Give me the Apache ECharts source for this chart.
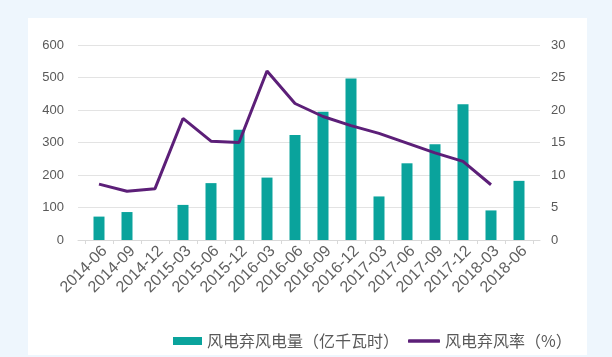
<!DOCTYPE html>
<html>
<head>
<meta charset="utf-8">
<script src="https://cdn.jsdelivr.net/npm/echarts@6/dist/echarts.min.js"></script>
<style>
html,body{margin:0;padding:0;background:#eef6fd;}
#chart{width:612px;height:357px;}
</style>
</head>
<body>
<div id="chart"></div>
<script>
const categories = ['2014-06','2014-09','2014-12','2015-03','2015-06','2015-12','2016-03','2016-06','2016-09','2016-12','2017-03','2017-06','2017-09','2017-12','2018-03','2018-06'];
const curtailedEnergy = [72, 86, null, 108, 175, 339, 192, 323, 395, 497, 134, 236, 295, 418, 91, 182];
const curtailmentRate = [8.6, 7.5, 7.9, 18.7, 15.2, 15.0, 26.0, 21.0, 19.0, 17.6, 16.4, 14.9, 13.4, 12.1, 8.5, null];
const seriesNames = ['风电弃风电量（亿千瓦时）', '风电弃风率（%）'];
const leftAxis = {min: 0, max: 600, interval: 100};
const rightAxis = {min: 0, max: 30, interval: 5};

const chart = echarts.init(document.getElementById('chart'), null, {renderer: 'canvas'});
const labelColor = '#595959';
const numFont = 'Liberation Sans';
const legendText = {fontSize: 16, color: labelColor, fontFamily: 'Noto Sans CJK SC'};
const option = {
  backgroundColor: '#eef6fd',
  animation: false,
  graphic: [{
    type: 'rect', z: -10, silent: true,
    shape: {x: 28, y: 18, width: 559, height: 337},
    style: {fill: '#ffffff'}
  }],
  grid: [
    {left: 78, right: 72, top: 45, bottom: 117},
    {left: 85, right: 79, top: 45, bottom: 117}
  ],
  legend: [
    {left: 168, top: 328, itemWidth: 29, itemHeight: 8,
     textStyle: legendText, selectedMode: false,
     data: [{name: seriesNames[0], icon: 'rect'}]},
    {left: 403, top: 328, itemWidth: 32, itemHeight: 3.5,
     textStyle: legendText, selectedMode: false,
     data: [{name: seriesNames[1], icon: 'roundRect'}]}
  ],
  xAxis: [
    {type: 'value', gridIndex: 0, min: 0, max: 1,
     axisLine: {show: true, lineStyle: {color: '#d9d9d9', width: 1}},
     axisTick: {show: false}, axisLabel: {show: false}, splitLine: {show: false}},
    {type: 'category', gridIndex: 1, data: categories,
     axisLine: {show: false},
     axisTick: {show: true, length: 4, lineStyle: {color: '#d9d9d9'}},
     axisLabel: {rotate: 45, fontSize: 16, color: '#606060', fontFamily: numFont, margin: 3,
                 verticalAlign: 'top', interval: 0}}
  ],
  yAxis: [
    {type: 'value', gridIndex: 0, min: leftAxis.min, max: leftAxis.max, interval: leftAxis.interval,
     axisLine: {show: false}, axisTick: {show: false},
     axisLabel: {fontSize: 13, color: labelColor, fontFamily: numFont, margin: 14},
     splitLine: {lineStyle: {color: '#e3e3e3'}}},
    {type: 'value', gridIndex: 0, position: 'right', min: rightAxis.min, max: rightAxis.max, interval: rightAxis.interval,
     axisLine: {show: false}, axisTick: {show: false},
     axisLabel: {fontSize: 13, color: labelColor, fontFamily: numFont, margin: 11},
     splitLine: {show: false}},
    {type: 'value', gridIndex: 1, min: leftAxis.min, max: leftAxis.max, show: false},
    {type: 'value', gridIndex: 1, min: rightAxis.min, max: rightAxis.max, show: false}
  ],
  series: [
    {name: seriesNames[0], type: 'bar', xAxisIndex: 1, yAxisIndex: 2,
     data: curtailedEnergy, barWidth: 11,
     itemStyle: {color: '#0aa39c'}},
    {name: seriesNames[1], type: 'line', xAxisIndex: 1, yAxisIndex: 3,
     data: curtailmentRate, symbol: 'none', connectNulls: false,
     lineStyle: {color: '#5c1f78', width: 3}, itemStyle: {color: '#5c1f78'}}
  ]
};
chart.setOption(option);
</script>
</body>
</html>
